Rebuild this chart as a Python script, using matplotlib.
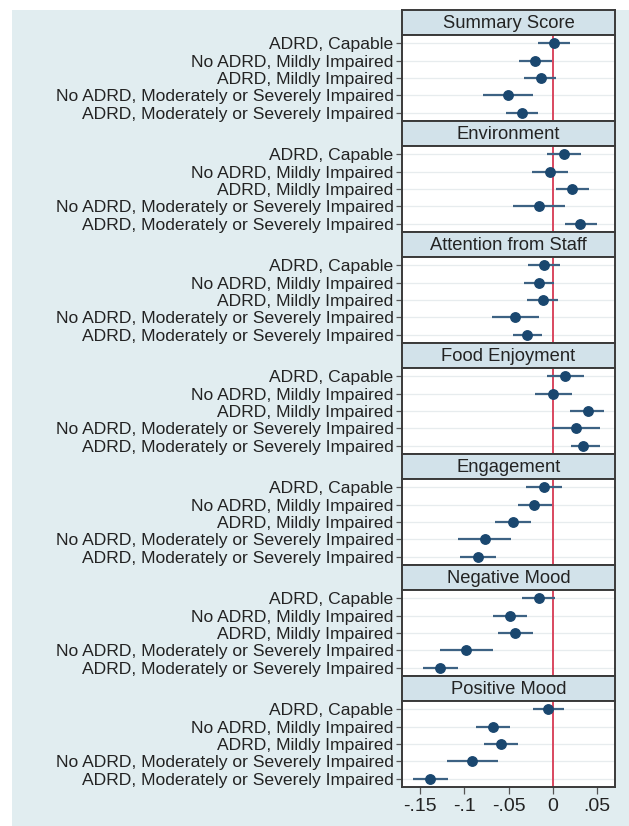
import matplotlib
matplotlib.use("Agg")
import matplotlib.pyplot as plt
from matplotlib.patches import Rectangle

plt.rcParams['font.family'] = ['Liberation Sans', 'DejaVu Sans']

groups = [
    "ADRD, Capable",
    "No ADRD, Mildly Impaired",
    "ADRD, Mildly Impaired",
    "No ADRD, Moderately or Severely Impaired",
    "ADRD, Moderately or Severely Impaired",
]

outcomes = ["Summary Score", "Environment", "Attention from Staff",
            "Food Enjoyment", "Engagement", "Negative Mood", "Positive Mood"]

# point estimates and 95% CI bounds, one row per outcome, ordered as in `groups`
est_summary = [0.0015, -0.020, -0.0135, -0.051, -0.035]
lo_summary = [-0.017, -0.038, -0.032, -0.079, -0.053]
hi_summary = [0.020, -0.001, 0.004, -0.022, -0.017]

est_environment = [0.0124, -0.003, 0.022, -0.016, 0.031]
lo_environment = [-0.006, -0.023, 0.004, -0.045, 0.0135]
hi_environment = [0.0316, 0.017, 0.041, 0.0135, 0.050]

est_attention = [-0.010, -0.016, -0.011, -0.043, -0.029]
lo_attention = [-0.028, -0.033, -0.029, -0.069, -0.045]
hi_attention = [0.008, 0.001, 0.0064, -0.016, -0.0116]

est_food = [0.0143, 0.000, 0.0395, 0.026, 0.0346]
lo_food = [-0.006, -0.020, 0.020, -0.0008, 0.0207]
hi_food = [0.035, 0.0214, 0.058, 0.054, 0.054]

est_engagement = [-0.0098, -0.0207, -0.0448, -0.077, -0.085]
lo_engagement = [-0.0297, -0.039, -0.065, -0.107, -0.105]
hi_engagement = [0.0105, -0.0008, -0.024, -0.0467, -0.0647]

est_negative = [-0.016, -0.048, -0.0425, -0.0978, -0.1275]
lo_negative = [-0.035, -0.068, -0.0624, -0.128, -0.147]
hi_negative = [0.0023, -0.0286, -0.0226, -0.067, -0.107]

est_positive = [-0.0049, -0.0674, -0.058, -0.091, -0.1385]
lo_positive = [-0.022, -0.087, -0.078, -0.120, -0.158]
hi_positive = [0.0128, -0.0478, -0.039, -0.0624, -0.118]

estimates = [est_summary, est_environment, est_attention, est_food,
             est_engagement, est_negative, est_positive]
lower = [lo_summary, lo_environment, lo_attention, lo_food,
         lo_engagement, lo_negative, lo_positive]
upper = [hi_summary, hi_environment, hi_attention, hi_food,
         hi_engagement, hi_negative, hi_positive]

xticks = [-0.15, -0.10, -0.05, 0.0, 0.05]
xticklabels = ["-.15", "-.1", "-.05", "0", ".05"]

W, H = 629, 826
fig = plt.figure(figsize=(W / 100, H / 100), dpi=100)
fig.patch.set_facecolor("white")

BG = "#e1edf0"
STRIP = "#d2e2ea"
EDGE = "#3a3a3a"
NAVY = "#1a476f"
CI = "#3d6283"
RED = "#d9475f"
TXT = "#232323"

# graph region background
fig.add_artist(Rectangle((12 / W, 0), 1, 1 - 10 / H, transform=fig.transFigure,
                         facecolor=BG, edgecolor="none", zorder=0))

left_px, right_px = 402, 615
top_px = 10
period = 111
strip_h = 25


def fig_box(x0, y0, x1, y1):
    return [x0 / W, 1 - y1 / H, (x1 - x0) / W, (y1 - y0) / H]


rows = list(range(1, len(groups) + 1))
for i, name in enumerate(outcomes):
    s_top = top_px + i * period
    s_bot = s_top + strip_h
    p_bot = s_top + period

    # header strip
    sax = fig.add_axes(fig_box(left_px, s_top, right_px, s_bot))
    sax.set_facecolor(STRIP)
    sax.set_xticks([])
    sax.set_yticks([])
    for sp in sax.spines.values():
        sp.set_color(EDGE)
        sp.set_linewidth(1.4)
    sax.text(0.5, 0.47, name, transform=sax.transAxes, ha="center", va="center",
             fontsize=13.2, color=TXT)

    ax = fig.add_axes(fig_box(left_px, s_bot, right_px, p_bot))
    ax.set_facecolor("white")
    ax.set_xlim(-0.1705, 0.0705)
    ax.set_ylim(5.48, 0.52)
    for r in rows:
        ax.axhline(r, color="#e7ecee", lw=0.9, zorder=1)
    ax.axvline(0, color=RED, lw=1.4, zorder=2)
    ax.hlines(rows, lower[i], upper[i], color=CI, lw=1.6, zorder=3)
    ax.plot(estimates[i], rows, "o", color=NAVY, ms=6.8, zorder=4)

    ax.set_yticks(rows)
    ax.set_yticklabels(groups, fontsize=12.6, color=TXT)
    ax.tick_params(axis="y", length=4, width=0.9, color="#555555", pad=2)
    if i == len(outcomes) - 1:
        ax.set_xticks(xticks)
        ax.set_xticklabels(xticklabels, fontsize=14, color=TXT)
        ax.tick_params(axis="x", length=5, width=0.9, color="#555555", pad=3)
    else:
        ax.set_xticks([])
    for sp in ax.spines.values():
        sp.set_color(EDGE)
        sp.set_linewidth(1.4)

fig.savefig("out.png", dpi=100, facecolor=fig.get_facecolor())
